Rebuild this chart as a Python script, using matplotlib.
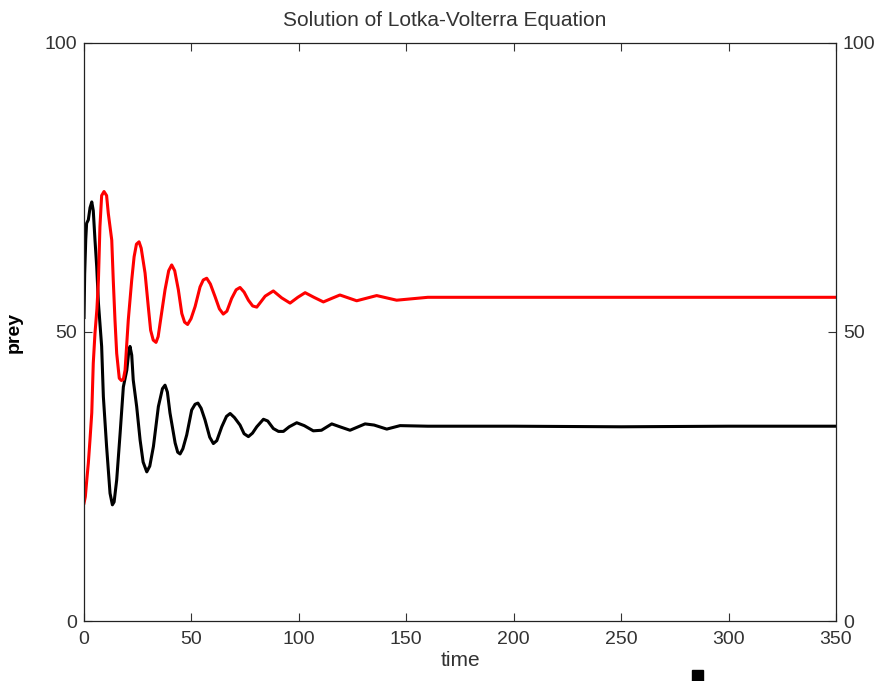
import matplotlib
matplotlib.use('Agg')
import matplotlib.pyplot as plt
from matplotlib.patches import Rectangle

plt.rcParams['font.family'] = ['Liberation Sans', 'DejaVu Sans']

# values
prey_t = [0, 0.3, 0.8, 1.2, 2.0, 2.8, 3.6, 4.3, 5.1, 5.9, 6.7, 7.5, 8.2, 9.0,
          10.5, 12.1, 13.2, 14.0, 15.2, 16.8, 18.3, 19.9, 20.8, 21.4, 22.2,
          22.9, 24.5, 26.1, 27.5, 29.2, 30.6, 32.3, 34.6, 36.5, 37.7, 38.8,
          40.0, 42.4, 43.6, 44.7, 46.0, 47.8, 50.1, 51.7, 53.0, 54.5, 56.3,
          58.5, 60.2, 61.8, 64.1, 66.3, 68.0, 70.0, 72.6, 74.5, 76.5, 78.4,
          80.4, 83.5, 85.5, 88.1, 90.5, 92.8, 95.5, 99.0, 102.5, 106.7, 110.5,
          115.3, 119.1, 123.8, 130.8, 135.0, 140.9, 147.1, 160, 200, 250, 300,
          350]
prey_y = [52.5, 60, 66, 68.8, 69.4, 71.5, 72.5, 71.0, 65.9, 61.3, 55, 51,
          47.5, 38.8, 30.2, 22.1, 20.1, 20.6, 24.4, 32.5, 40.5, 43.4, 46.5,
          47.5, 46.0, 41.7, 37.1, 31.3, 27.5, 25.8, 26.8, 30.2, 37.1, 40.2,
          40.8, 39.6, 36.0, 30.8, 29.2, 28.9, 29.8, 32.2, 36.5, 37.5, 37.7,
          36.8, 34.8, 31.8, 30.7, 31.2, 33.6, 35.4, 35.9, 35.2, 33.9, 32.4,
          31.9, 32.5, 33.6, 34.9, 34.6, 33.3, 32.8, 32.8, 33.6, 34.3, 33.8,
          32.9, 33.0, 34.1, 33.6, 33.0, 34.1, 33.9, 33.2, 33.8, 33.7, 33.7,
          33.6, 33.7, 33.7]

pred_t = [0, 0.6, 1.3, 2.0, 2.8, 3.6, 4.3, 5.1, 6.0, 6.7, 7.4, 8.2, 9.3, 10.5,
          11.3, 12.9, 13.6, 14.4, 15.2, 16.4, 17.4, 18.3, 19.1, 20.6, 22.2,
          23.3, 24.4, 25.6, 26.6, 28.4, 29.9, 31.0, 32.2, 33.5, 34.5, 35.4,
          37.7, 39.4, 40.8, 42.2, 43.9, 45.5, 46.8, 48.2, 49.8, 51.7, 54.0,
          55.5, 57.1, 58.8, 61.0, 63.0, 64.8, 66.5, 68.7, 70.8, 72.6, 74.5,
          76.5, 78.5, 80.4, 84.3, 88.1, 92.0, 95.9, 99.5, 102.9, 107.0, 111.4,
          115.2, 119.1, 126.9, 136.2, 145.5, 160, 200, 250, 300, 350]
pred_y = [20.4, 21.5, 24.5, 27.3, 31.5, 36.0, 44.6, 49.8, 54.0, 59.0, 68.2,
          73.6, 74.3, 73.6, 70.5, 65.9, 59.0, 52.1, 46.3, 42.0, 41.6, 41.8,
          43.4, 52.1, 59.0, 63.0, 65.2, 65.6, 64.5, 60.2, 54.4, 50.3, 48.6,
          48.2, 49.2, 51.5, 57.3, 60.6, 61.6, 60.6, 57.3, 53.2, 51.7, 51.3,
          52.3, 54.4, 57.8, 59.0, 59.3, 58.3, 56.1, 54.0, 53.1, 53.6, 55.8,
          57.3, 57.7, 56.9, 55.5, 54.5, 54.3, 56.2, 57.1, 55.9, 55.0, 56.0,
          56.8, 56.0, 55.2, 55.8, 56.4, 55.4, 56.3, 55.5, 56.0, 56.0, 56.0,
          56.0, 56.0]

xticks = [0, 50, 100, 150, 200, 250, 300, 350]
yticks = [0, 50, 100]
txt = '#333333'

fig = plt.figure(figsize=(8.79, 6.81), dpi=100)
ax = fig.add_axes([0.0956, 0.0881, 0.8555, 0.8488])

ax.plot(prey_t, prey_y, color='black', lw=2.2)
ax.plot(pred_t, pred_y, color='red', lw=2.2)

ax.set_xlim(0, 350)
ax.set_ylim(0, 100)
ax.set_xticks(xticks)
ax.set_yticks(yticks)
ax.tick_params(direction='in', length=6, width=0.8, top=True, right=True,
               labelright=True, labelsize=14, colors=txt, pad=5)
ax.tick_params(axis='x', pad=7)
for s in ax.spines.values():
    s.set_linewidth(0.9)
    s.set_color('#222222')

t = ax.set_title('Solution of Lotka-Volterra Equation', fontsize=15, pad=12,
                 color=txt)
t.set_x(0.479)
ax.set_xlabel('time', fontsize=15, labelpad=2, color=txt)
ax.set_ylabel('prey', fontsize=14, fontweight='bold', labelpad=16)

fig.add_artist(Rectangle((0.787, 0.0), 0.013, 0.016, transform=fig.transFigure,
                         color='black'))

fig.savefig('out.png', dpi=100)
